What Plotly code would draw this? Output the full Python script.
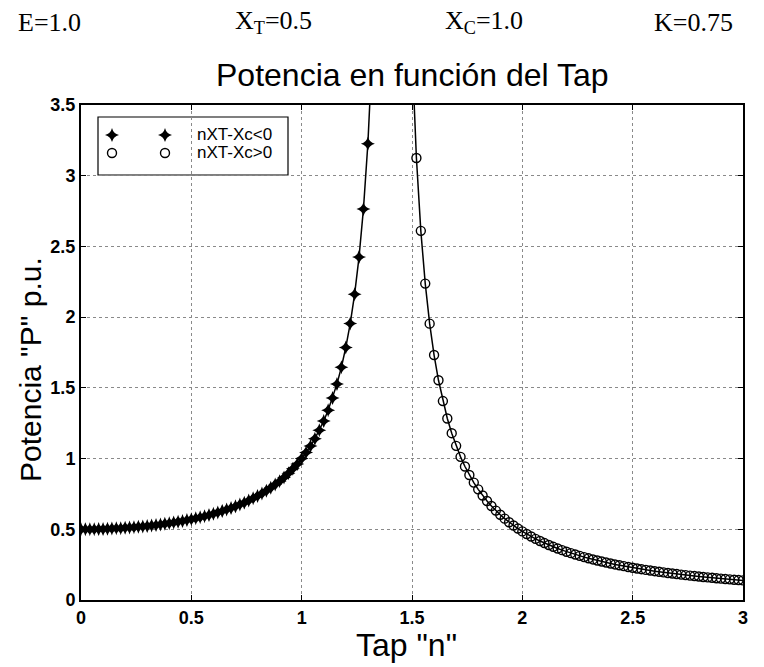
import plotly.graph_objects as go

# Tap values and power for branch nXT-Xc<0 (stars)
n_neg = [0.00, 0.02, 0.04, 0.06, 0.08, 0.10, 0.12, 0.14, 0.16, 0.18,
         0.20, 0.22, 0.24, 0.26, 0.28, 0.30, 0.32, 0.34, 0.36, 0.38,
         0.40, 0.42, 0.44, 0.46, 0.48, 0.50, 0.52, 0.54, 0.56, 0.58,
         0.60, 0.62, 0.64, 0.66, 0.68, 0.70, 0.72, 0.74, 0.76, 0.78,
         0.80, 0.82, 0.84, 0.86, 0.88, 0.90, 0.92, 0.94, 0.96, 0.98,
         1.00, 1.02, 1.04, 1.06, 1.08, 1.10, 1.12, 1.14, 1.16, 1.18,
         1.20, 1.22, 1.24, 1.26, 1.28, 1.30, 1.32]
p_neg = [0.5000, 0.5001, 0.5004, 0.5009, 0.5016, 0.5025, 0.5036, 0.5049, 0.5065, 0.5082,
         0.5102, 0.5124, 0.5148, 0.5175, 0.5204, 0.5236, 0.5270, 0.5307, 0.5346, 0.5389,
         0.5435, 0.5484, 0.5536, 0.5592, 0.5651, 0.5714, 0.5782, 0.5853, 0.5930, 0.6011,
         0.6098, 0.6190, 0.6288, 0.6392, 0.6504, 0.6623, 0.6749, 0.6885, 0.7030, 0.7186,
         0.7353, 0.7532, 0.7726, 0.7934, 0.8159, 0.8403, 0.8669, 0.8957, 0.9273, 0.9619,
         1.0000, 1.0421, 1.0889, 1.1410, 1.1996, 1.2658, 1.3412, 1.4278, 1.5281, 1.6458,
         1.7857, 1.9547, 2.1626, 2.4248, 2.7655, 3.2258, 3.8820]

# Tap values and power for branch nXT-Xc>0 (circles)
n_pos = [1.50, 1.52, 1.54, 1.56, 1.58, 1.60, 1.62, 1.64, 1.66, 1.68,
         1.70, 1.72, 1.74, 1.76, 1.78, 1.80, 1.82, 1.84, 1.86, 1.88,
         1.90, 1.92, 1.94, 1.96, 1.98, 2.00, 2.02, 2.04, 2.06, 2.08,
         2.10, 2.12, 2.14, 2.16, 2.18, 2.20, 2.22, 2.24, 2.26, 2.28,
         2.30, 2.32, 2.34, 2.36, 2.38, 2.40, 2.42, 2.44, 2.46, 2.48,
         2.50, 2.52, 2.54, 2.56, 2.58, 2.60, 2.62, 2.64, 2.66, 2.68,
         2.70, 2.72, 2.74, 2.76, 2.78, 2.80, 2.82, 2.84, 2.86, 2.88,
         2.90, 2.92, 2.94, 2.96, 2.98, 3.00]
p_pos = [3.880, 3.125, 2.610, 2.237, 1.954, 1.732, 1.5535, 1.4066, 1.2837, 1.1795,
         1.0899, 1.0121, 0.9439, 0.8837, 0.8302, 0.7823, 0.7391, 0.7001, 0.6646, 0.6322,
         0.6025, 0.5752, 0.5500, 0.5267, 0.5051, 0.4850, 0.4663, 0.4487, 0.4323, 0.4170,
         0.4025, 0.3889, 0.3760, 0.3639, 0.3524, 0.3415, 0.3312, 0.3214, 0.3121, 0.3033,
         0.2948, 0.2868, 0.2791, 0.2717, 0.2647, 0.2580, 0.2515, 0.2453, 0.2394, 0.2337,
         0.2282, 0.2230, 0.2179, 0.2130, 0.2083, 0.2038, 0.1994, 0.1952, 0.1911, 0.1872,
         0.1834, 0.1797, 0.1761, 0.1727, 0.1693, 0.1661, 0.1630, 0.1599, 0.1570, 0.1541,
         0.1513, 0.1486, 0.1460, 0.1435, 0.1410, 0.1386]

x_ticks = [0, 0.5, 1, 1.5, 2, 2.5, 3]
x_tick_labels = ["0", "0.5", "1", "1.5", "2", "2.5", "3"]
y_ticks = [0, 0.5, 1, 1.5, 2, 2.5, 3, 3.5]
y_tick_labels = ["0", "0.5", "1", "1.5", "2", "2.5", "3", "3.5"]

series_names = ["nXT-Xc<0", "nXT-Xc>0"]
title_text = "Potencia en función del Tap"
x_title = 'Tap "n"'
y_title = 'Potencia "P" p.u.'
params = ["E=1.0", "X<sub>T</sub>=0.5", "X<sub>C</sub>=1.0", "K=0.75"]

SANS = "Liberation Sans, Arial, sans-serif"
SERIF = "Liberation Serif, Times New Roman, serif"

W, H = 764, 667
ML, MR, MT, MB = 81, 21, 105, 67
PW, PH = W - ML - MR, H - MT - MB


def px_to_paper_x(px):
    return (px - ML) / PW


def px_to_paper_y(py):
    return (H - MB - py) / PH


fig = go.Figure()

fig.add_trace(go.Scatter(
    x=n_neg, y=p_neg, mode="lines+markers", name=series_names[0],
    line=dict(color="black", width=1.5),
    marker=dict(symbol="star-diamond", size=10, color="black"),
    showlegend=False,
))
fig.add_trace(go.Scatter(
    x=n_pos, y=p_pos, mode="lines+markers", name=series_names[1],
    line=dict(color="black", width=1.5),
    marker=dict(symbol="circle-open", size=9, color="black", line=dict(width=1.4)),
    showlegend=False,
))

# custom legend (two sample markers per entry, as in the original)
leg_x = [px_to_paper_x(112), px_to_paper_x(165)]
fig.add_trace(go.Scatter(
    x=leg_x, y=[px_to_paper_y(135)] * 2, xaxis="x2", yaxis="y2",
    mode="markers", marker=dict(symbol="star-diamond", size=10, color="black"),
    showlegend=False, hoverinfo="skip",
))
fig.add_trace(go.Scatter(
    x=leg_x, y=[px_to_paper_y(153)] * 2, xaxis="x2", yaxis="y2",
    mode="markers", marker=dict(symbol="circle-open", size=9, color="black", line=dict(width=1.4)),
    showlegend=False, hoverinfo="skip",
))

shapes = [dict(
    type="rect", xref="paper", yref="paper",
    x0=px_to_paper_x(98), x1=px_to_paper_x(288),
    y0=px_to_paper_y(175), y1=px_to_paper_y(117),
    fillcolor="white", line=dict(color="black", width=1.2), layer="between",
)]

annotations = [
    dict(text=series_names[0], x=px_to_paper_x(195), y=px_to_paper_y(135),
         xref="paper", yref="paper", xanchor="left", yanchor="middle",
         showarrow=False, font=dict(family=SANS, size=17, color="black")),
    dict(text=series_names[1], x=px_to_paper_x(195), y=px_to_paper_y(153),
         xref="paper", yref="paper", xanchor="left", yanchor="middle",
         showarrow=False, font=dict(family=SANS, size=17, color="black")),
    dict(text=title_text, x=0.5, y=px_to_paper_y(75), xref="paper", yref="paper",
         xanchor="center", yanchor="middle", showarrow=False,
         font=dict(family=SANS, size=32, color="black")),
    dict(text=x_title, x=px_to_paper_x(406), y=px_to_paper_y(645), xref="paper", yref="paper",
         xanchor="center", yanchor="middle", showarrow=False,
         font=dict(family=SANS, size=32, color="black")),
    dict(text=y_title, x=px_to_paper_x(30), y=px_to_paper_y(370), xref="paper", yref="paper",
         xanchor="center", yanchor="middle", showarrow=False, textangle=-90,
         font=dict(family=SANS, size=30, color="black")),
]
param_x = [16, 233, 443, 652]
for txt, px in zip(params, param_x):
    annotations.append(dict(
        text=txt, x=px_to_paper_x(px), y=px_to_paper_y(22), xref="paper", yref="paper",
        xanchor="left", yanchor="middle", showarrow=False,
        font=dict(family=SERIF, size=26, color="black")))

axis_common = dict(
    showline=True, linecolor="black", linewidth=2, mirror="ticks",
    ticks="inside", ticklen=5, tickcolor="black", tickwidth=1,
    showgrid=True, gridcolor="#8a8a8a", gridwidth=1, griddash="dot",
    zeroline=False,
    tickfont=dict(family=SANS, size=18, color="black", weight="bold"),
)

fig.update_layout(
    width=W, height=H,
    margin=dict(l=ML, r=MR, t=MT, b=MB),
    paper_bgcolor="white", plot_bgcolor="white",
    xaxis=dict(range=[0, 3], tickvals=x_ticks, ticktext=x_tick_labels, **axis_common),
    yaxis=dict(range=[0, 3.5], tickvals=y_ticks, ticktext=y_tick_labels, **axis_common),
    xaxis2=dict(overlaying="x", range=[0, 1], visible=False, anchor="y2"),
    yaxis2=dict(overlaying="y", range=[0, 1], visible=False, anchor="x2"),
    shapes=shapes,
    annotations=annotations,
    showlegend=False,
)

fig.write_html(
    "out.html",
    config={"displayModeBar": False},
    post_script="document.body.style.margin='0';document.body.style.padding='0';"
                "document.body.style.overflow='hidden';",
)
